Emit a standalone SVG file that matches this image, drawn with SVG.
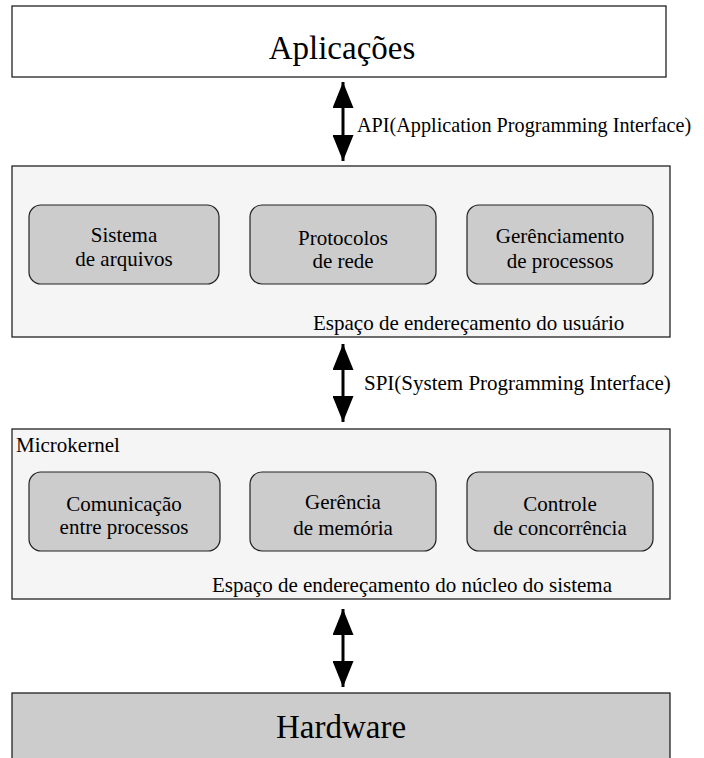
<svg xmlns="http://www.w3.org/2000/svg" width="704" height="758" viewBox="0 0 704 758">
<style>
text{font-family:"Liberation Serif","Times New Roman","DejaVu Serif",serif;fill:#000}
.t{font-size:21px}
.api{font-size:20.2px}
.big{font-size:33px}
.c{text-anchor:middle}
.layer{stroke:#222;stroke-width:1.3}
.inner{fill:#cccccc;stroke:#222;stroke-width:1.2}
.arr{stroke:#000;stroke-width:3;fill:none}
</style>
<defs>
<marker id="ah" viewBox="0 0 26 21" refX="26" refY="10.5" markerWidth="26" markerHeight="21" markerUnits="userSpaceOnUse" orient="auto-start-reverse">
<path d="M0,0 L26,10.5 L0,21 Z" fill="#000"/>
</marker>
</defs>
<rect width="704" height="758" fill="#fff"/>
<g id="aplicacoes">
<rect class="layer" x="12" y="6" width="654" height="71" fill="#fff"/>
<text class="big c" x="342" y="59">Aplicações</text>
</g>
<g id="usuario">
<rect class="layer" x="12" y="166" width="658" height="171" fill="#f5f5f5"/>
<text class="t" x="313" y="330">Espaço de endereçamento do usuário</text>
</g>
<g id="sistema-arquivos">
<rect class="inner" x="29" y="205" width="190" height="79" rx="12"/>
<text class="t c" x="124" y="242">Sistema</text>
<text class="t c" x="124" y="266">de arquivos</text>
</g>
<g id="protocolos">
<rect class="inner" x="250" y="205" width="186" height="79" rx="12"/>
<text class="t c" x="343" y="245">Protocolos</text>
<text class="t c" x="343" y="268">de rede</text>
</g>
<g id="gerenciamento">
<rect class="inner" x="467" y="205" width="186" height="79" rx="12"/>
<text class="t c" x="560" y="243">Gerênciamento</text>
<text class="t c" x="560" y="268">de processos</text>
</g>
<g id="microkernel">
<rect class="layer" x="12" y="429" width="658" height="170" fill="#f5f5f5"/>
<text class="t" x="16" y="452">Microkernel</text>
<text class="t" x="212" y="592">Espaço de endereçamento do núcleo do sistema</text>
</g>
<g id="comunicacao">
<rect class="inner" x="29" y="472" width="191" height="79" rx="12"/>
<text class="t c" x="124" y="511">Comunicação</text>
<text class="t c" x="124" y="534">entre processos</text>
</g>
<g id="memoria">
<rect class="inner" x="250" y="472" width="186" height="79" rx="12"/>
<text class="t c" x="343" y="509">Gerência</text>
<text class="t c" x="343" y="535">de memória</text>
</g>
<g id="concorrencia">
<rect class="inner" x="467" y="472" width="186" height="79" rx="12"/>
<text class="t c" x="560" y="511">Controle</text>
<text class="t c" x="560" y="535">de concorrência</text>
</g>
<g id="hardware">
<rect class="layer" x="12" y="693" width="658" height="80" fill="#cccccc"/>
<text class="big c" x="341" y="738">Hardware</text>
</g>
<g id="connectors">
<line class="arr" x1="343" y1="82" x2="343" y2="161" marker-start="url(#ah)" marker-end="url(#ah)"/>
<text class="api" x="357" y="132">API(Application Programming Interface)</text>
<line class="arr" x1="343" y1="344" x2="343" y2="422" marker-start="url(#ah)" marker-end="url(#ah)"/>
<text class="t" x="364" y="390">SPI(System Programming Interface)</text>
<line class="arr" x1="343" y1="609" x2="343" y2="687" marker-start="url(#ah)" marker-end="url(#ah)"/>
</g>
</svg>
